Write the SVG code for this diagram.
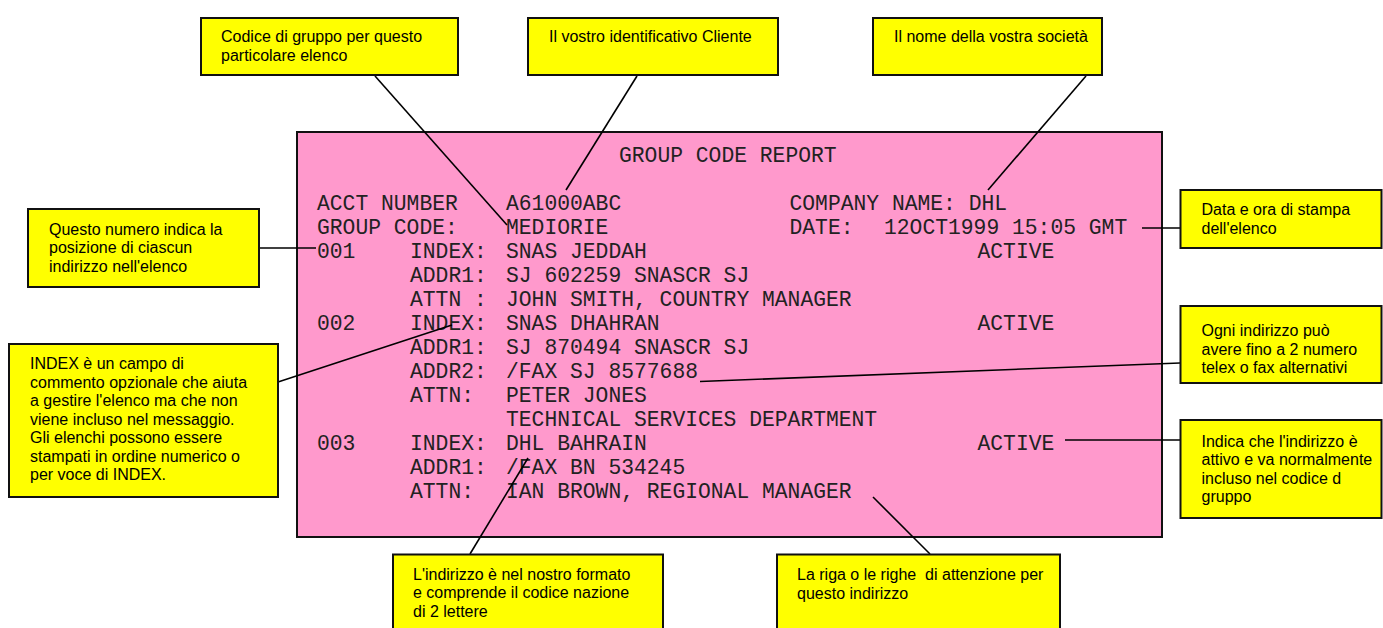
<svg xmlns="http://www.w3.org/2000/svg" width="1383" height="628" viewBox="0 0 1383 628">
<style>
.box{fill:#FFFF00;stroke:#111;stroke-width:2}
.rep{fill:#FF99CC;stroke:#111;stroke-width:2}
.t{font-family:"Liberation Sans",Arial,sans-serif;font-size:16px;fill:#000}
.m{font-family:"Liberation Mono","Courier New",monospace;font-size:21.33px;fill:#222}
.c{stroke:#000;stroke-width:1.6;fill:none}
</style>
<rect width="1383" height="628" fill="#fff"/>
<g id="report">
<rect class="rep" x="297" y="132" width="865" height="405"/>
<text class="m" x="619" y="162">GROUP CODE REPORT</text>
<text class="m" x="317" y="210">ACCT NUMBER</text>
<text class="m" x="506" y="210">A61000ABC</text>
<text class="m" x="789.5" y="210">COMPANY NAME: DHL</text>
<text class="m" x="317" y="234">GROUP CODE:</text>
<text class="m" x="506" y="234">MEDIORIE</text>
<text class="m" x="789.5" y="234">DATE:</text>
<text class="m" x="884" y="234">12OCT1999 15:05 GMT</text>
<text class="m" x="317" y="258">001</text>
<text class="m" x="410" y="258">INDEX:</text>
<text class="m" x="506" y="258">SNAS JEDDAH</text>
<text class="m" x="977.5" y="258">ACTIVE</text>
<text class="m" x="410" y="282">ADDR1:</text>
<text class="m" x="506" y="282">SJ 602259 SNASCR SJ</text>
<text class="m" x="410" y="306">ATTN :</text>
<text class="m" x="506" y="306">JOHN SMITH, COUNTRY MANAGER</text>
<text class="m" x="317" y="330">002</text>
<text class="m" x="410" y="330">INDEX:</text>
<text class="m" x="506" y="330">SNAS DHAHRAN</text>
<text class="m" x="977.5" y="330">ACTIVE</text>
<text class="m" x="410" y="354">ADDR1:</text>
<text class="m" x="506" y="354">SJ 870494 SNASCR SJ</text>
<text class="m" x="410" y="378">ADDR2:</text>
<text class="m" x="506" y="378">/FAX SJ 8577688</text>
<text class="m" x="410" y="402">ATTN:</text>
<text class="m" x="506" y="402">PETER JONES</text>
<text class="m" x="506" y="426">TECHNICAL SERVICES DEPARTMENT</text>
<text class="m" x="317" y="450">003</text>
<text class="m" x="410" y="450">INDEX:</text>
<text class="m" x="506" y="450">DHL BAHRAIN</text>
<text class="m" x="977.5" y="450">ACTIVE</text>
<text class="m" x="410" y="474">ADDR1:</text>
<text class="m" x="506" y="474">/FAX BN 534245</text>
<text class="m" x="410" y="498">ATTN:</text>
<text class="m" x="506" y="498">IAN BROWN, REGIONAL MANAGER</text>
</g>
<g id="connectors">
<line class="c" x1="375" y1="76" x2="507" y2="225"/>
<line class="c" x1="637" y1="76" x2="566" y2="190"/>
<line class="c" x1="1086" y1="76" x2="988" y2="190"/>
<line class="c" x1="259" y1="248" x2="316" y2="248"/>
<line class="c" x1="278" y1="382" x2="452" y2="325"/>
<line class="c" x1="700" y1="381.5" x2="1180" y2="363"/>
<line class="c" x1="1142" y1="228" x2="1180" y2="228"/>
<line class="c" x1="1065" y1="440" x2="1180" y2="440"/>
<line class="c" x1="470" y1="554" x2="528" y2="458"/>
<line class="c" x1="930" y1="554" x2="873" y2="497"/>
</g>
<g id="n-codice">
<rect class="box" x="201" y="18" width="257" height="57"/>
<text class="t" x="221" y="42">Codice di gruppo per questo</text>
<text class="t" x="221" y="60.5">particolare elenco</text>
</g>
<g id="n-cliente">
<rect class="box" x="528" y="18" width="250" height="57"/>
<text class="t" x="549" y="42">Il vostro identificativo Cliente</text>
</g>
<g id="n-societa">
<rect class="box" x="873" y="18" width="229" height="57"/>
<text class="t" x="894" y="42">Il nome della vostra società</text>
</g>
<g id="n-numero">
<rect class="box" x="28" y="209" width="231" height="78"/>
<text class="t" x="49" y="234.5">Questo numero indica la</text>
<text class="t" x="49" y="253">posizione di ciascun</text>
<text class="t" x="49" y="271.5">indirizzo nell'elenco</text>
</g>
<g id="n-index">
<rect class="box" x="9" y="344" width="269" height="153"/>
<text class="t" x="30" y="369">INDEX è un campo di</text>
<text class="t" x="30" y="387.5">commento opzionale che aiuta</text>
<text class="t" x="30" y="406">a gestire l'elenco ma che non</text>
<text class="t" x="30" y="424.5">viene incluso nel messaggio.</text>
<text class="t" x="30" y="443">Gli elenchi possono essere</text>
<text class="t" x="30" y="461.5">stampati in ordine numerico o</text>
<text class="t" x="30" y="480">per voce di INDEX.</text>
</g>
<g id="n-data">
<rect class="box" x="1180.5" y="190" width="201" height="58"/>
<text class="t" x="1201.5" y="215">Data e ora di stampa</text>
<text class="t" x="1201.5" y="233.5">dell'elenco</text>
</g>
<g id="n-ogni">
<rect class="box" x="1180.5" y="306" width="201" height="77"/>
<text class="t" x="1201.5" y="336">Ogni indirizzo può</text>
<text class="t" x="1201.5" y="354.5">avere fino a 2 numero</text>
<text class="t" x="1201.5" y="373">telex o fax alternativi</text>
</g>
<g id="n-indica">
<rect class="box" x="1180.5" y="420" width="201" height="98"/>
<text class="t" x="1201.5" y="446.5">Indica che l'indirizzo è</text>
<text class="t" x="1201.5" y="465">attivo e va normalmente</text>
<text class="t" x="1201.5" y="483.5">incluso nel codice d</text>
<text class="t" x="1201.5" y="502">gruppo</text>
</g>
<g id="n-formato">
<rect class="box" x="393" y="554.5" width="270" height="100"/>
<text class="t" x="413" y="579.5">L'indirizzo è nel nostro formato</text>
<text class="t" x="413" y="598">e comprende il codice nazione</text>
<text class="t" x="413" y="616.5">di 2 lettere</text>
</g>
<g id="n-attenzione">
<rect class="box" x="777" y="554.5" width="283" height="100"/>
<text class="t" x="797" y="580" xml:space="preserve">La riga o le righe  di attenzione per</text>
<text class="t" x="797" y="598.5">questo indirizzo</text>
</g>
</svg>
